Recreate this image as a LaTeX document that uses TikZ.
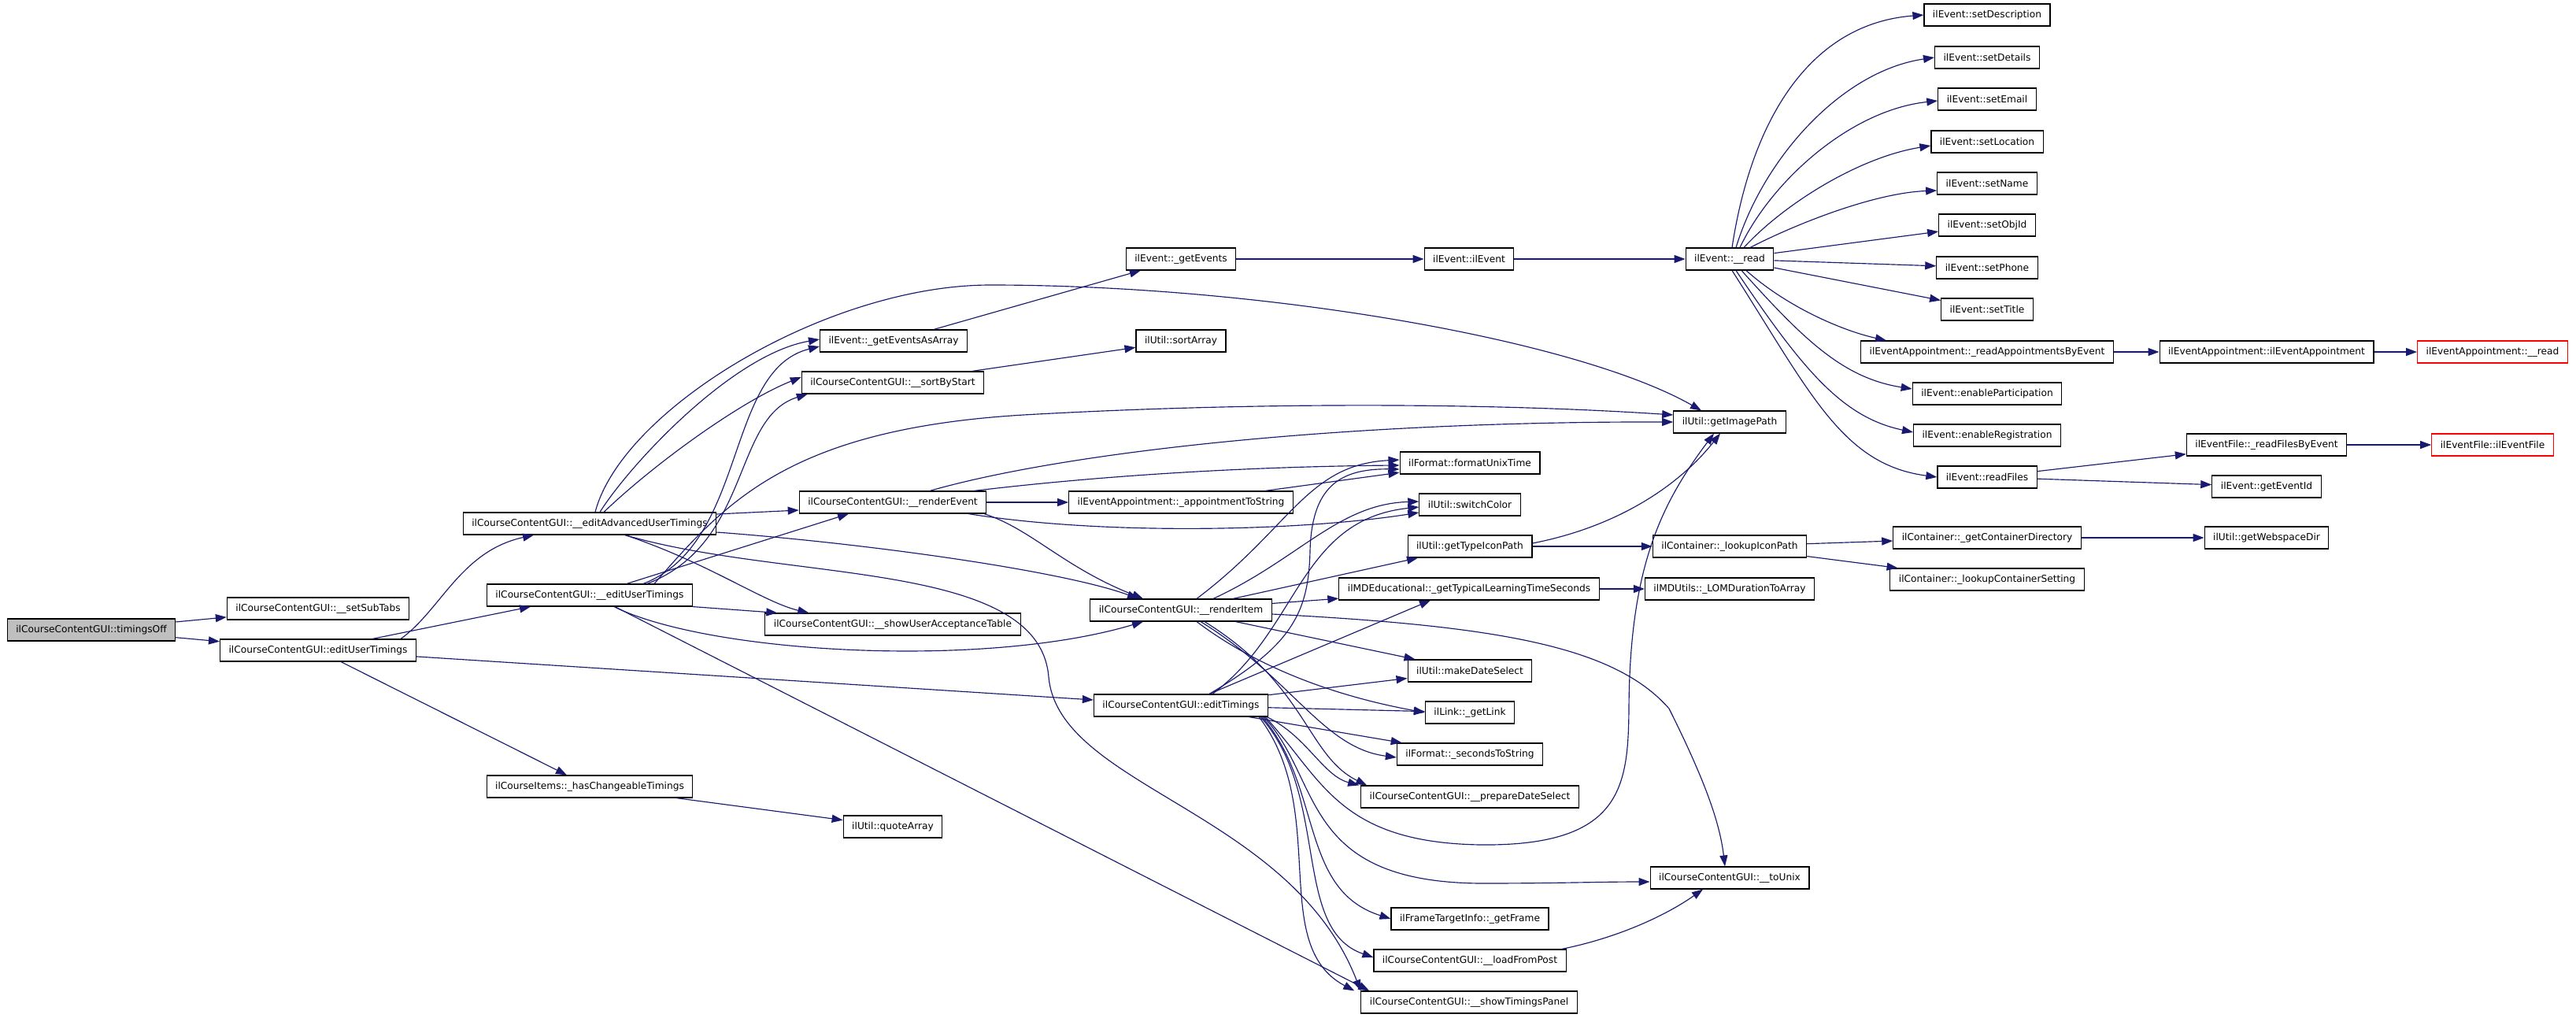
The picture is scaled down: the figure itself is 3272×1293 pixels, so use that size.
\documentclass[tikz,border=0pt]{standalone}
\usepackage{fontspec}
\setmainfont{DejaVu Sans}
\usetikzlibrary{arrows.meta}

\definecolor{callblue}{HTML}{191970}
\definecolor{rootgray}{HTML}{BFBFBF}

\tikzset{
    func/.style={draw=black, line width=1.15pt, fill=white, minimum height=28pt,
        inner xsep=11pt, inner ysep=0pt, font=\fontsize{12.2}{15}\selectfont},
    rootfunc/.style={func, fill=rootgray},
    undoc/.style={func, draw=red},
    call/.style={draw=callblue, line width=1.15pt, -{Triangle[length=14pt,width=10pt]}},
}

\begin{document}
\begin{tikzpicture}[x=1pt, y=1pt]
    % page
    \fill[white] (0,0) rectangle (3272,-1293);
    \useasboundingbox (0,0) rectangle (3272,-1293);

    % callers, left part
    \node[rootfunc] (timingsOff) at (116,-800) {ilCourseContentGUI::timingsOff};
    \node[func] (setSubTabs) at (404,-773) {ilCourseContentGUI::\_\_setSubTabs};
    \node[func] (editUserTimings) at (404,-826) {ilCourseContentGUI::editUserTimings};
    \node[func] (editAdvancedUT) at (749,-665) {ilCourseContentGUI::\_\_editAdvancedUserTimings};
    \node[func] (editUserTimingsPriv) at (749,-756) {ilCourseContentGUI::\_\_editUserTimings};
    \node[func] (hasChangeable) at (749,-999) {ilCourseItems::\_hasChangeableTimings};
    \node[func] (getEventsAsArray) at (1135,-433) {ilEvent::\_getEventsAsArray};
    \node[func] (sortByStart) at (1134,-486) {ilCourseContentGUI::\_\_sortByStart};
    \node[func] (renderEvent) at (1134,-638) {ilCourseContentGUI::\_\_renderEvent};
    \node[func] (showUserAccept) at (1134,-793) {ilCourseContentGUI::\_\_showUserAcceptanceTable};
    \node[func] (quoteArray) at (1134,-1050) {ilUtil::quoteArray};
    \node[func] (getEvents) at (1500,-329) {ilEvent::\_getEvents};
    \node[func] (sortArray) at (1500,-433) {ilUtil::sortArray};
    \node[func] (apptToString) at (1500,-638) {ilEventAppointment::\_appointmentToString};
    \node[func] (renderItem) at (1500,-775) {ilCourseContentGUI::\_\_renderItem};
    \node[func] (editTimings) at (1500,-896) {ilCourseContentGUI::editTimings};

    % middle column
    \node[func] (eventCtor) at (1866,-329) {ilEvent::ilEvent};
    \node[func] (formatUnixTime) at (1867,-588) {ilFormat::formatUnixTime};
    \node[func] (switchColor) at (1867,-641) {ilUtil::switchColor};
    \node[func] (getTypeIconPath) at (1867,-694) {ilUtil::getTypeIconPath};
    \node[func] (typicalLearning) at (1866,-748) {ilMDEducational::\_getTypicalLearningTimeSeconds};
    \node[func] (makeDateSelect) at (1867,-852) {ilUtil::makeDateSelect};
    \node[func] (getLink) at (1867,-905) {ilLink::\_getLink};
    \node[func] (secondsToString) at (1867,-958) {ilFormat::\_secondsToString};
    \node[func] (prepareDateSelect) at (1867,-1012) {ilCourseContentGUI::\_\_prepareDateSelect};
    \node[func] (getFrame) at (1867,-1167) {ilFrameTargetInfo::\_getFrame};
    \node[func] (loadFromPost) at (1867,-1220) {ilCourseContentGUI::\_\_loadFromPost};
    \node[func] (showTimingsPanel) at (1866,-1273) {ilCourseContentGUI::\_\_showTimingsPanel};
    \node[func] (eventRead) at (2197,-329) {ilEvent::\_\_read};
    \node[func] (getImagePath) at (2197,-536) {ilUtil::getImagePath};
    \node[func] (lookupIconPath) at (2197,-694) {ilContainer::\_lookupIconPath};
    \node[func] (lomDuration) at (2197,-748) {ilMDUtils::\_LOMDurationToArray};
    \node[func] (toUnix) at (2197,-1115) {ilCourseContentGUI::\_\_toUnix};

    % right part
    \node[func] (setDescription) at (2524,-19) {ilEvent::setDescription};
    \node[func] (setDetails) at (2524,-73) {ilEvent::setDetails};
    \node[func] (setEmail) at (2524,-126) {ilEvent::setEmail};
    \node[func] (setLocation) at (2524,-180) {ilEvent::setLocation};
    \node[func] (setName) at (2524,-233) {ilEvent::setName};
    \node[func] (setObjId) at (2524,-286) {ilEvent::setObjId};
    \node[func] (setPhone) at (2524,-340) {ilEvent::setPhone};
    \node[func] (setTitle) at (2524,-393) {ilEvent::setTitle};
    \node[func] (readApptByEvent) at (2524,-447) {ilEventAppointment::\_readAppointmentsByEvent};
    \node[func] (enablePart) at (2524,-500) {ilEvent::enableParticipation};
    \node[func] (enableReg) at (2524,-553) {ilEvent::enableRegistration};
    \node[func] (readFiles) at (2524,-606) {ilEvent::readFiles};
    \node[func] (getContainerDir) at (2524,-683) {ilContainer::\_getContainerDirectory};
    \node[func] (lookupContSetting) at (2524,-736) {ilContainer::\_lookupContainerSetting};
    \node[func] (apptCtor) at (2879,-447) {ilEventAppointment::ilEventAppointment};
    \node[func] (readFilesByEvent) at (2879,-565) {ilEventFile::\_readFilesByEvent};
    \node[func] (getEventId) at (2879,-618) {ilEvent::getEventId};
    \node[func] (getWebspaceDir) at (2879,-683) {ilUtil::getWebspaceDir};
    \node[undoc] (apptRead) at (3166,-447) {ilEventAppointment::\_\_read};
    \node[undoc] (eventFileCtor) at (3166,-565) {ilEventFile::ilEventFile};

    % timingsOff
    \draw[call] (timingsOff) -- (setSubTabs);
    \draw[call] (timingsOff) -- (editUserTimings);

    % editUserTimings
    \draw[call] ([xshift=105]editUserTimings.north) .. controls (560,-775) and (585,-700) .. ([xshift=-71]editAdvancedUT.south);
    \draw[call] ([xshift=69]editUserTimings.north) -- ([xshift=-75]editUserTimingsPriv.south);
    \draw[call] (editUserTimings) -- (editTimings);
    \draw[call] (editUserTimings) -- (hasChangeable);
    \draw[call] (hasChangeable) -- (quoteArray);

    % __editAdvancedUserTimings
    \draw[call] ([xshift=7]editAdvancedUT.north) .. controls (790,-520) and (1050,-362) .. (1258,-362)
        .. controls (1600,-362) and (2000,-430) .. ([xshift=-36]getImagePath.north);
    \draw[call] ([xshift=13]editAdvancedUT.north) .. controls (800,-590) and (930,-450) .. ([yshift=2]getEventsAsArray.west);
    \draw[call] ([xshift=18]editAdvancedUT.north) .. controls (830,-590) and (940,-510) .. ([yshift=7]sortByStart.west);
    \draw[call] ([yshift=12]editAdvancedUT.east) -- ([yshift=-10]renderEvent.west);
    \draw[call] ([yshift=-11]editAdvancedUT.east) .. controls (1100,-690) and (1350,-725) .. ([xshift=-54]renderItem.north);
    \draw[call] ([xshift=45]editAdvancedUT.south) .. controls (900,-715) and (970,-765) .. ([xshift=56]showUserAccept.north west);
    \draw[call] ([xshift=45]editAdvancedUT.south) .. controls (1000,-740) and (1320,-710) .. (1332,-860)
        .. controls (1345,-1000) and (1640,-1030) .. (showTimingsPanel.north west);

    % __editUserTimings
    \draw[call] ([xshift=68]editUserTimingsPriv.north) .. controls (950,-690) and (920,-470) .. ([yshift=-7]getEventsAsArray.west);
    \draw[call] ([xshift=73]editUserTimingsPriv.north) .. controls (955,-690) and (930,-530) .. ([xshift=8]sortByStart.south west);
    \draw[call] ([xshift=82]editUserTimingsPriv.north) .. controls (920,-640) and (1000,-545) .. (1300,-527)
        .. controls (1600,-510) and (1900,-512) .. ([yshift=9]getImagePath.west);
    \draw[call] ([xshift=47]editUserTimingsPriv.north) -- ([xshift=-56]renderEvent.south);
    \draw[call] ([xshift=31]editUserTimingsPriv.south) .. controls (900,-830) and (1250,-850) .. ([xshift=-48]renderItem.south);
    \draw[call] (editUserTimingsPriv.south east) -- ([xshift=16]showUserAccept.north west);
    \draw[call] ([xshift=32]editUserTimingsPriv.south) -- ([xshift=11]showTimingsPanel.north west);

    % events
    \draw[call] (getEventsAsArray) -- (getEvents);
    \draw[call] (sortByStart) -- (sortArray);
    \draw[call] (getEvents) -- (eventCtor);
    \draw[call] (eventCtor) -- (eventRead);

    % ilEvent::__read fan
    \draw[call] ([xshift=3]eventRead.north) .. controls (2225,-150) and (2300,-30) .. (setDescription.west);
    \draw[call] ([xshift=8]eventRead.north) .. controls (2240,-200) and (2340,-90) .. (setDetails.west);
    \draw[call] ([xshift=13]eventRead.north) .. controls (2250,-230) and (2350,-140) .. ([yshift=-2]setEmail.west);
    \draw[call] ([xshift=18]eventRead.north) .. controls (2265,-260) and (2360,-200) .. ([yshift=-5]setLocation.west);
    \draw[call] ([xshift=26]eventRead.north) .. controls (2280,-285) and (2380,-245) .. ([yshift=-9]setName.west);
    \draw[call] (eventRead) -- (setObjId);
    \draw[call] (eventRead) -- (setPhone);
    \draw[call] (eventRead) -- (setTitle);
    \draw[call] ([xshift=21]eventRead.south) .. controls (2270,-390) and (2340,-420) .. ([xshift=-128]readApptByEvent.north);
    \draw[call] ([xshift=15]eventRead.south) .. controls (2290,-430) and (2340,-480) .. ([yshift=6]enablePart.west);
    \draw[call] ([xshift=8]eventRead.south) .. controls (2290,-470) and (2340,-530) .. ([yshift=4]enableReg.west);
    \draw[call] ([xshift=3]eventRead.south) .. controls (2300,-500) and (2340,-590) .. (readFiles.west);
    \draw[call] (readApptByEvent) -- (apptCtor);
    \draw[call] (apptCtor) -- (apptRead);
    \draw[call] (readFiles) -- (readFilesByEvent);
    \draw[call] (readFiles) -- (getEventId);
    \draw[call] (readFilesByEvent) -- (eventFileCtor);

    % __renderEvent
    \draw[call] (renderEvent) -- (apptToString);
    \draw[call] ([xshift=47]renderEvent.north) .. controls (1350,-575) and (1700,-535) .. (getImagePath.west);
    \draw[call] ([xshift=103]renderEvent.north) .. controls (1450,-598) and (1650,-592) .. ([yshift=-3]formatUnixTime.west);
    \draw[call] ([xshift=96]renderEvent.south) .. controls (1400,-680) and (1650,-675) .. ([yshift=-10]switchColor.west);
    \draw[call] ([xshift=116]renderEvent.south) .. controls (1310,-672) and (1350,-720) .. ([xshift=-48]renderItem.north);
    \draw[call] (apptToString) -- (formatUnixTime);

    % __renderItem
    \draw[call] ([xshift=20]renderItem.north) .. controls (1640,-670) and (1660,-590) .. ([yshift=4]formatUnixTime.west);
    \draw[call] ([xshift=41]renderItem.north) .. controls (1650,-710) and (1700,-640) .. ([yshift=4]switchColor.west);
    \draw[call] (renderItem) -- (getTypeIconPath);
    \draw[call] (renderItem) -- (typicalLearning);
    \draw[call] ([yshift=-5]renderItem.east) .. controls (1900,-795) and (2050,-820) .. (2120,-900)
        .. controls (2170,-1000) and (2185,-1050) .. ([xshift=-6]toUnix.north);
    \draw[call] (renderItem) -- (makeDateSelect);
    \draw[call] ([xshift=20]renderItem.south) .. controls (1600,-850) and (1700,-885) .. (getLink.west);
    \draw[call] ([xshift=25]renderItem.south) .. controls (1640,-860) and (1680,-950) .. ([yshift=-4]secondsToString.west);
    \draw[call] ([xshift=30]renderItem.south) .. controls (1660,-870) and (1660,-960) .. ([xshift=8]prepareDateSelect.north west);

    % editTimings
    \draw[call] ([xshift=36]editTimings.north) .. controls (1640,-820) and (1662,-780) .. (1664,-700)
        .. controls (1666,-620) and (1700,-595) .. ([yshift=-8]formatUnixTime.west);
    \draw[call] ([xshift=40]editTimings.north) .. controls (1650,-800) and (1650,-660) .. ([yshift=-3]switchColor.west);
    \draw[call] ([xshift=36]editTimings.north) -- ([xshift=-49]typicalLearning.south);
    \draw[call] (editTimings) -- (makeDateSelect);
    \draw[call] (editTimings) -- (getLink);
    \draw[call] (editTimings) -- (secondsToString);
    \draw[call] ([xshift=-2]editTimings.south east) .. controls (1660,-935) and (1680,-985) .. ([xshift=-2]prepareDateSelect.north west);
    \draw[call] ([xshift=-4]editTimings.south east) .. controls (1680,-990) and (1700,-1070) .. (1880,-1073)
        .. controls (2060,-1075) and (2068,-1000) .. (2069,-900)
        .. controls (2070,-720) and (2110,-640) .. ([xshift=-20]getImagePath.south);
    \draw[call] ([xshift=-6]editTimings.south east) .. controls (1680,-990) and (1650,-1120) .. (1880,-1122)
        .. controls (1980,-1122) and (2030,-1120) .. ([yshift=-5]toUnix.west);
    \draw[call] ([xshift=-8]editTimings.south east) .. controls (1680,-1000) and (1650,-1130) .. (getFrame.west);
    \draw[call] ([xshift=-10]editTimings.south east) .. controls (1690,-1010) and (1640,-1180) .. ([yshift=4]loadFromPost.west);
    \draw[call] ([xshift=-12]editTimings.south east) .. controls (1690,-1030) and (1610,-1200) .. ([xshift=-8]showTimingsPanel.north west);

    % remaining callees
    \draw[call] (getTypeIconPath) -- (lookupIconPath);
    \draw[call] ([yshift=4]getTypeIconPath.east) .. controls (2050,-670) and (2130,-620) .. ([xshift=-12]getImagePath.south);
    \draw[call] (lookupIconPath) -- (getContainerDir);
    \draw[call] (lookupIconPath) -- (lookupContSetting);
    \draw[call] (getContainerDir) -- (getWebspaceDir);
    \draw[call] (typicalLearning) -- (lomDuration);
    \draw[call] ([xshift=-6]loadFromPost.north east) .. controls (2060,-1190) and (2120,-1160) .. ([xshift=-34]toUnix.south);
\end{tikzpicture}
\end{document}
